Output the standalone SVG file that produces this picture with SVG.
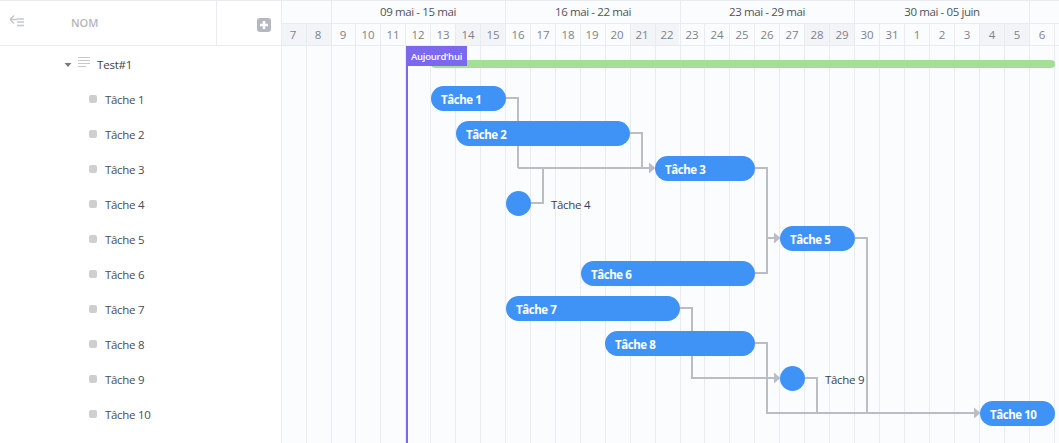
<svg xmlns="http://www.w3.org/2000/svg" width="1059" height="443" viewBox="0 0 1059 443">
<style>
text{font-family:"Open Sans","Noto Sans","Liberation Sans",sans-serif}
.grid{stroke:#e9ebf0;stroke-width:1;fill:none}
.day{font-size:11.5px;fill:#7f828a;text-anchor:middle}
.week{font-size:11.5px;fill:#50535a;text-anchor:middle;letter-spacing:-.4px}
.wk{fill:#f3f4f7}
.row{font-size:11.5px;fill:#4a4c52;letter-spacing:-.3px}
.sq{fill:#cfcfd1}
.bar{fill:#3f93f7}
.bl{font-size:11.5px;font-weight:700;fill:#fff;letter-spacing:-.45px}
.ml{font-size:11.5px;fill:#3d3f45;letter-spacing:-.3px}
.c{fill:none;stroke:#babdc4;stroke-width:2}
.ah{fill:#babdc4}
</style>
<rect x="0" y="0" width="1059" height="443" fill="#fff"/>
<rect x="281" y="0" width="778" height="443" fill="#fbfcfe"/>
<g id="weekend-shading">
<rect class="wk" x="282" y="24" width="49" height="21"/>
<rect class="wk" x="456" y="24" width="49" height="21"/>
<rect class="wk" x="631" y="24" width="48" height="21"/>
<rect class="wk" x="805" y="24" width="49" height="21"/>
<rect class="wk" x="980" y="24" width="49" height="21"/>
</g>
<g id="grid">
<path class="grid" d="M306.500 24V443M331.500 0V443M355.500 24V443M380.500 24V443M405.500 24V443M430.500 24V443M455.500 24V443M480.500 24V443M505.500 0V443M530.500 24V443M555.500 24V443M580.500 24V443M605.500 24V443M630.500 24V443M655.500 24V443M680.500 0V443M704.500 24V443M729.500 24V443M754.500 24V443M779.500 24V443M804.500 24V443M829.500 24V443M854.500 0V443M879.500 24V443M904.500 24V443M929.500 24V443M954.500 24V443M979.500 24V443M1004.500 24V443M1029.500 0V443M1054.500 24V443"/>
<path class="grid" d="M0 .5H1059M281 23.500H1059M0 45.500H1059M281.500 0V443M216.500 0V45"/>
</g>
<g id="header">
<text class="week" x="418" y="16">09 mai - 15 mai</text>
<text class="week" x="593" y="16">16 mai - 22 mai</text>
<text class="week" x="767" y="16">23 mai - 29 mai</text>
<text class="week" x="942" y="16">30 mai - 05 juin</text>
<text class="day" x="293" y="39">7</text><text class="day" x="318" y="39">8</text><text class="day" x="343" y="39">9</text><text class="day" x="368" y="39">10</text><text class="day" x="393" y="39">11</text><text class="day" x="418" y="39">12</text><text class="day" x="443" y="39">13</text><text class="day" x="468" y="39">14</text><text class="day" x="493" y="39">15</text><text class="day" x="518" y="39">16</text><text class="day" x="543" y="39">17</text><text class="day" x="568" y="39">18</text><text class="day" x="592" y="39">19</text><text class="day" x="617" y="39">20</text><text class="day" x="642" y="39">21</text><text class="day" x="667" y="39">22</text><text class="day" x="692" y="39">23</text><text class="day" x="717" y="39">24</text><text class="day" x="742" y="39">25</text><text class="day" x="767" y="39">26</text><text class="day" x="792" y="39">27</text><text class="day" x="817" y="39">28</text><text class="day" x="842" y="39">29</text><text class="day" x="867" y="39">30</text><text class="day" x="892" y="39">31</text><text class="day" x="917" y="39">1</text><text class="day" x="942" y="39">2</text><text class="day" x="967" y="39">3</text><text class="day" x="992" y="39">4</text><text class="day" x="1017" y="39">5</text><text class="day" x="1042" y="39">6</text>
</g>
<g id="left-header">
<path d="M10 19.500L14 15.500M10 19.500L14 23.500M10 19.500H17" fill="none" stroke="#c4c7cd" stroke-width="1.500"/>
<path d="M17 19H24M17 22H24M17 25.500H24" fill="none" stroke="#c4c7cd" stroke-width="1.300"/>
<text x="71" y="27" font-size="11px" font-weight="600" fill="#b4b6bb">NOM</text>
<rect x="257" y="18" width="14" height="14" rx="3" fill="#b5b8c0"/>
<path d="M264 21V29M260 25H268" stroke="#fff" stroke-width="2.500"/>
</g>
<g id="today">
<rect x="406" y="46" width="2" height="397" fill="#7b68ee"/>
</g>
<g id="node-test1">
<path d="M64.500 63H71.500L68 67Z" fill="#777a80"/>
<path d="M78 57.500H90M78 60.500H90M78 63.500H90M78 66.500H86" fill="none" stroke="#c4c7cd" stroke-width="1"/>
<text x="97" y="69" font-size="11.500px" fill="#3d3f45" letter-spacing="-.2">Test#1</text>
<rect x="431" y="60" width="624" height="8" rx="4" fill="#a5df97"/>
</g>
<g id="today-label">
<rect x="406" y="46" width="61" height="20" fill="#7b68ee"/>
<text x="411" y="60" font-size="9.500px" font-weight="600" fill="#fff" letter-spacing="-.25">Aujourd'hui</text>
</g>
<g id="connectors">
<path class="c" d="M506 98H518V168"/>
<path class="c" d="M630 133H642V168"/>
<path class="c" d="M518 168H650"/>
<path class="c" d="M531 203H543V168"/>
<path class="c" d="M755 168H767V238H775"/>
<path class="c" d="M755 273H767V238"/>
<path class="c" d="M855 238H867V413"/>
<path class="c" d="M680 308H692V378H775"/>
<path class="c" d="M755 343H767V413H975"/>
<path class="c" d="M805 378H817V413"/>
<path class="ah" d="M649 162.500L655.500 168L649 173.500Z"/>
<path class="ah" d="M774 232.500L780.500 238L774 243.500Z"/>
<path class="ah" d="M774 372.500L780.500 378L774 383.500Z"/>
<path class="ah" d="M974 407.500L980.500 413L974 418.500Z"/>
</g>
<g id="node-tache1"><rect class="sq" x="89" y="95" width="8" height="8" rx="2"/><text class="row" x="105" y="104">Tâche 1</text><rect class="bar" x="431" y="86" width="75" height="25" rx="12.500"/><text class="bl" x="441" y="104">Tâche 1</text></g>
<g id="node-tache2"><rect class="sq" x="89" y="130" width="8" height="8" rx="2"/><text class="row" x="105" y="139">Tâche 2</text><rect class="bar" x="456" y="121" width="174" height="25" rx="12.500"/><text class="bl" x="466" y="139">Tâche 2</text></g>
<g id="node-tache3"><rect class="sq" x="89" y="165" width="8" height="8" rx="2"/><text class="row" x="105" y="174">Tâche 3</text><rect class="bar" x="655" y="156" width="100" height="25" rx="12.500"/><text class="bl" x="665" y="174">Tâche 3</text></g>
<g id="node-tache4"><rect class="sq" x="89" y="200" width="8" height="8" rx="2"/><text class="row" x="105" y="209">Tâche 4</text><circle class="bar" cx="518.500" cy="203.500" r="12.500"/><text class="ml" x="551" y="209">Tâche 4</text></g>
<g id="node-tache5"><rect class="sq" x="89" y="235" width="8" height="8" rx="2"/><text class="row" x="105" y="244">Tâche 5</text><rect class="bar" x="780" y="226" width="75" height="25" rx="12.500"/><text class="bl" x="790" y="244">Tâche 5</text></g>
<g id="node-tache6"><rect class="sq" x="89" y="270" width="8" height="8" rx="2"/><text class="row" x="105" y="279">Tâche 6</text><rect class="bar" x="581" y="261" width="174" height="25" rx="12.500"/><text class="bl" x="591" y="279">Tâche 6</text></g>
<g id="node-tache7"><rect class="sq" x="89" y="305" width="8" height="8" rx="2"/><text class="row" x="105" y="314">Tâche 7</text><rect class="bar" x="506" y="296" width="174" height="25" rx="12.500"/><text class="bl" x="516" y="314">Tâche 7</text></g>
<g id="node-tache8"><rect class="sq" x="89" y="340" width="8" height="8" rx="2"/><text class="row" x="105" y="349">Tâche 8</text><rect class="bar" x="605" y="331" width="150" height="25" rx="12.500"/><text class="bl" x="615" y="349">Tâche 8</text></g>
<g id="node-tache9"><rect class="sq" x="89" y="375" width="8" height="8" rx="2"/><text class="row" x="105" y="384">Tâche 9</text><circle class="bar" cx="792.500" cy="378.500" r="12.500"/><text class="ml" x="825" y="384">Tâche 9</text></g>
<g id="node-tache10"><rect class="sq" x="89" y="410" width="8" height="8" rx="2"/><text class="row" x="105" y="419">Tâche 10</text><rect class="bar" x="980" y="401" width="75" height="25" rx="12.500"/><text class="bl" x="990" y="419">Tâche 10</text></g>
</svg>
